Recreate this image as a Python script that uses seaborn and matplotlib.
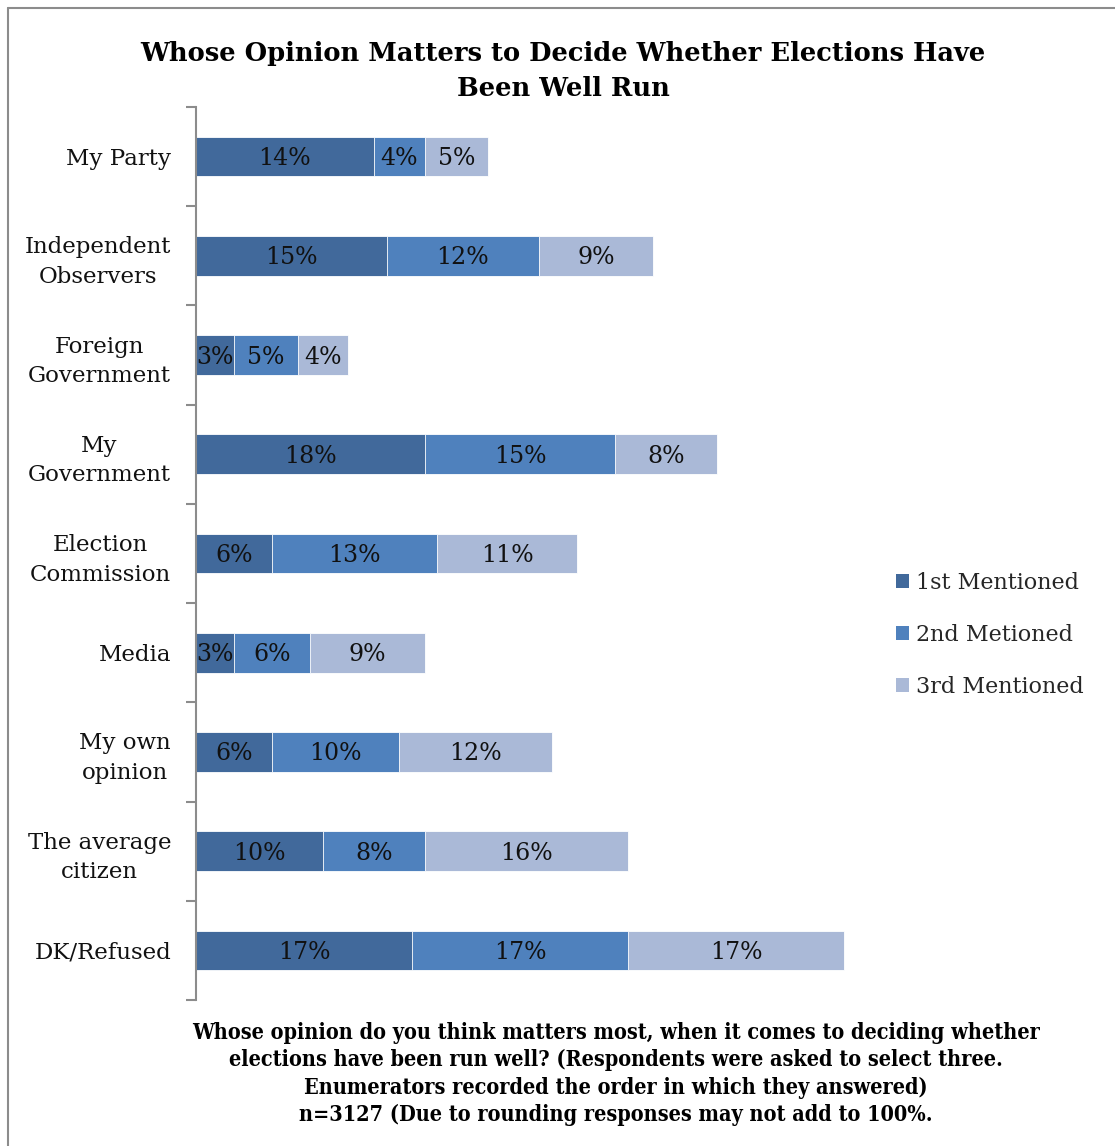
import matplotlib
matplotlib.use("Agg")
import matplotlib.pyplot as plt
import seaborn as sns
import pandas as pd
import numpy as np
from matplotlib.lines import Line2D
from matplotlib.patches import Patch

categories = ["My Party", "Independent\nObservers", "Foreign\nGovernment", "My\nGovernment",
              "Election\nCommission", "Media", "My own\nopinion", "The average\ncitizen", "DK/Refused"]
first_mentioned = [14, 15, 3, 18, 6, 3, 6, 10, 17]
second_mentioned = [4, 12, 5, 15, 13, 6, 10, 8, 17]
third_mentioned = [5, 9, 4, 8, 11, 9, 12, 16, 17]
series_names = ["1st Mentioned", "2nd Metioned", "3rd Mentioned"]
colors = ["#41699B", "#4F81BD", "#AAB9D7"]

sns.set_style("white")
plt.rcParams["font.family"] = ["DejaVu Serif"]

df = pd.DataFrame({"cat": categories, "s1": first_mentioned,
                   "s2": second_mentioned, "s3": third_mentioned})
df["c1"] = df["s1"]
df["c2"] = df["s1"] + df["s2"]
df["c3"] = df["c2"] + df["s3"]

W, H = 1115, 1146
fig = plt.figure(figsize=(W / 100, H / 100), dpi=100)
ax = fig.add_axes([196 / W, 1 - 1000 / H, 686 / W, 893 / H])

# stacked bars: draw cumulative totals back to front
for col, color in zip(["c3", "c2", "c1"], colors[::-1]):
    sns.barplot(data=df, y="cat", x=col, orient="h", color=color, width=0.4,
                saturation=1, edgecolor="white", linewidth=0.6, ax=ax)

ax.set_xlim(0, 54)
ax.set_ylim(len(categories) - 0.5, -0.5)

# value labels centered in each segment
for i, row in df.iterrows():
    starts = [0, row["c1"], row["c2"]]
    for start, val in zip(starts, [row["s1"], row["s2"], row["s3"]]):
        ax.text(start + val / 2, i + 0.02, f"{val}%", ha="center", va="center",
                fontsize=17, color="#111111")

ax.set_xlabel("")
ax.set_ylabel("")
ax.set_xticks([])
for s in ["top", "right", "bottom"]:
    ax.spines[s].set_visible(False)
ax.spines["left"].set_color("#8c8c8c")
ax.spines["left"].set_linewidth(1.5)

ax.set_yticks(range(len(categories)))
ax.set_yticklabels(categories, fontsize=16.5, ha="right", multialignment="center",
                   linespacing=1.45)
ax.tick_params(axis="y", which="major", left=False, length=0, pad=18, labelcolor="#111111")
ax.set_yticks(np.arange(-0.5, len(categories)), minor=True)
ax.tick_params(axis="y", which="minor", left=True, length=7, width=1.5,
               color="#8c8c8c", direction="out")

handles = [Patch(facecolor=c, edgecolor="none") for c in colors]
fig.legend(handles, series_names, loc="upper left", bbox_to_anchor=(887 / W, 1 - 563 / H),
           frameon=False, fontsize=16, handlelength=0.6, handleheight=0.6,
           handletextpad=0.3, labelspacing=1.35, borderaxespad=0)

fig.text(563 / W, 1 - 71 / H, "Whose Opinion Matters to Decide Whether Elections Have\nBeen Well Run",
         ha="center", va="center", fontsize=18.5, fontweight="bold", linespacing=1.5,
         color="black")

fig.text(616 / W, 1 - 1074 / H,
         "Whose opinion do you think matters most, when it comes to deciding whether\n"
         "elections have been run well? (Respondents were asked to select three.\n"
         "Enumerators recorded the order in which they answered)\n"
         "n=3127 (Due to rounding responses may not add to 100%.",
         ha="center", va="center", fontsize=15.5, fontweight="bold", linespacing=1.3,
         fontstretch="condensed", color="black")

# chart frame
fig.add_artist(Line2D([7.5 / W, 7.5 / W], [0, 1 - 7.5 / H], transform=fig.transFigure,
                      color="#8c8c8c", linewidth=1.5))
fig.add_artist(Line2D([7.5 / W, 1], [1 - 7.5 / H, 1 - 7.5 / H], transform=fig.transFigure,
                      color="#8c8c8c", linewidth=1.5))

fig.savefig("out.png", dpi=100)
